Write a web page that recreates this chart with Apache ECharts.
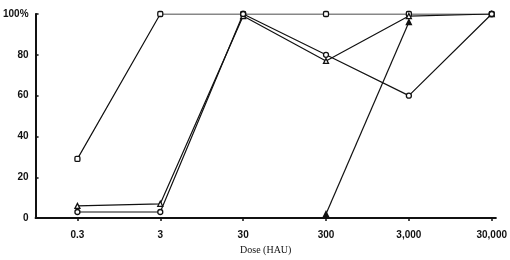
<!DOCTYPE html>
<html>
<head>
<meta charset="utf-8">
<script src="https://cdn.jsdelivr.net/npm/echarts@6/dist/echarts.min.js"></script>
<style>
  html, body { margin: 0; padding: 0; background: #fff; }
  #main { width: 510px; height: 260px; }
</style>
</head>
<body>
<div id="main"></div>
<script>
// doses (HAU) on the log axis
var doses = [0.3, 3, 30, 300, 3000, 30000];
var doseLabels = ['0.3', '3', '30', '300', '3,000', '30,000'];
var yTicks = [0, 20, 40, 60, 80, 100];

// % response per dose, null = not measured
var squareVals = [29, 100, 100, 100, 100, 100];
var triangleVals = [6, 7, 99, 77, 99, 100];
var circleVals = [3, 3, 100, 80, 60, 100];
var filledTriVals = [null, null, null, 2, 96, null];

function pairs(vals) {
    var res = [];
    for (var i = 0; i < doses.length; i++) {
        if (vals[i] != null) res.push([Math.log10(doses[i]), vals[i]]);
    }
    return res;
}

function line(vals, symbol, filled) {
    return {
        type: 'line',
        data: pairs(vals),
        symbol: symbol,
        symbolSize: 5,
        showSymbol: true,
        lineStyle: { color: '#111', width: 1.2 },
        itemStyle: {
            color: filled ? '#111' : '#fff',
            borderColor: '#111',
            borderWidth: 1.3
        },
        z: 3
    };
}

var myChart = echarts.init(document.getElementById('main'));
var option = {
    animation: false,
    backgroundColor: '#fff',
    grid: { left: 34, right: 14, top: 14, bottom: 37 },
    xAxis: {
        type: 'value',
        min: Math.log10(0.3) - 0.505,
        max: Math.log10(30000) + 0.05,
        name: 'Dose (HAU)',
        nameLocation: 'middle',
        nameGap: 26,
        nameTextStyle: { fontFamily: 'Liberation Serif', fontSize: 10, color: '#111' },
        axisLine: { onZero: false, lineStyle: { color: '#111', width: 2 } },
        axisTick: {
            show: true, length: 3, inside: false,
            customValues: doses.map(function (d) { return Math.log10(d); }),
            lineStyle: { color: '#111', width: 1.5 }
        },
        axisLabel: {
            customValues: doses.map(function (d) { return Math.log10(d); }),
            margin: 12,
            fontFamily: 'Liberation Sans Narrow, Liberation Sans',
            fontWeight: 'bold',
            fontSize: 10,
            color: '#111',
            formatter: function (v) {
                for (var i = 0; i < doses.length; i++) {
                    if (Math.abs(Math.log10(doses[i]) - v) < 1e-6) return doseLabels[i];
                }
                return '';
            }
        },
        splitLine: { show: false }
    },
    yAxis: {
        type: 'value',
        min: 0,
        max: 100,
        interval: 20,
        axisLine: { show: true, onZero: false, lineStyle: { color: '#111', width: 2 } },
        axisTick: { show: true, inside: true, length: 3, lineStyle: { color: '#111', width: 1.5 } },
        axisLabel: {
            margin: 7,
            fontFamily: 'Liberation Sans Narrow, Liberation Sans',
            fontWeight: 'bold',
            fontSize: 10,
            color: '#111',
            formatter: function (v) { return v == 100 ? '100%' : String(v); }
        },
        splitLine: { show: false }
    },
    series: [
        line(squareVals, 'roundRect', false),
        line(triangleVals, 'triangle', false),
        line(circleVals, 'circle', false),
        line(filledTriVals, 'triangle', true)
    ]
};
myChart.setOption(option);
</script>
</body>
</html>
